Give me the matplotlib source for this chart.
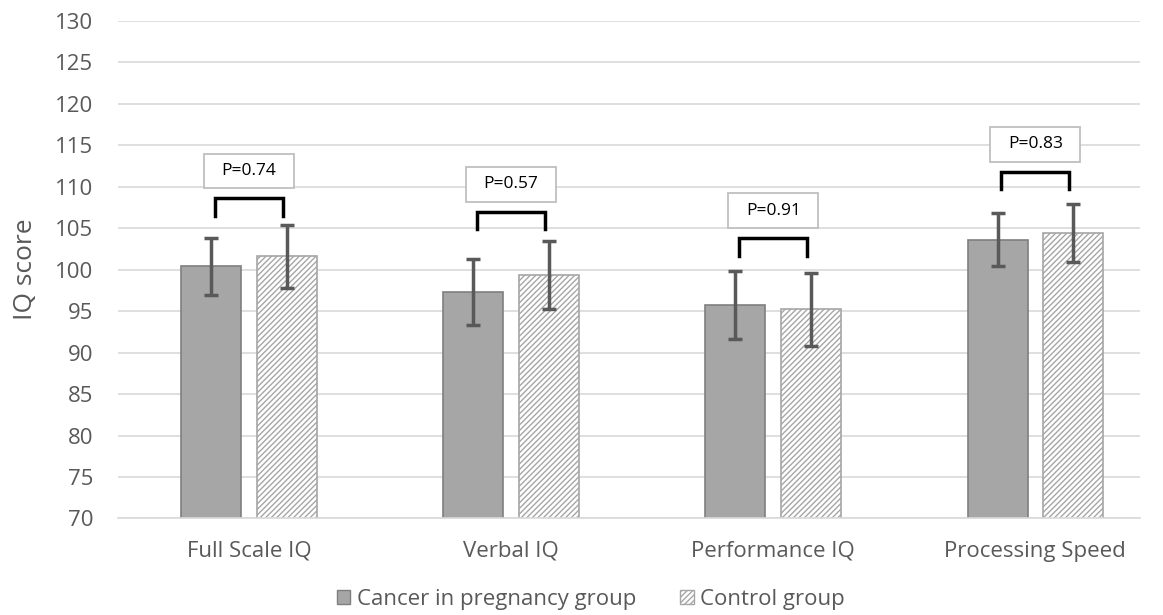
import numpy as np
import matplotlib.pyplot as plt
from matplotlib.patches import Patch, Rectangle

plt.rcParams['font.family'] = ['Open Sans', 'DejaVu Sans']
plt.rcParams['hatch.color'] = '#a6a6a6'
plt.rcParams['hatch.linewidth'] = 1.0

# ---------- data ----------
categories = ["Full Scale IQ", "Verbal IQ", "Performance IQ", "Processing Speed"]
cancer_mean = [100.4, 97.3, 95.7, 103.6]
cancer_err = [3.4, 4.0, 4.1, 3.2]
control_mean = [101.6, 99.3, 95.2, 104.4]
control_err = [3.8, 4.1, 4.4, 3.5]
p_labels = ["P=0.74", "P=0.57", "P=0.91", "P=0.83"]
bracket_top = [108.6, 107.0, 103.8, 111.8]

x = np.arange(len(categories))
w = 0.229
off = 0.144

fig = plt.figure(figsize=(11.63, 6.15), dpi=100)
ax = fig.add_axes([0.1015, 0.157, 0.8788, 0.809])

ax.bar(x - off, cancer_mean, w, color='#a6a6a6', edgecolor='#7f7f7f',
       linewidth=1.2, zorder=2)
ax.bar(x + off, control_mean, w, color='white', edgecolor='#a6a6a6',
       hatch='//////', linewidth=1.2, zorder=2)
ax.errorbar(x - off, cancer_mean, yerr=cancer_err, fmt='none', ecolor='#595959',
            elinewidth=2.5, capsize=5, capthick=2.5, zorder=3)
ax.errorbar(x + off, control_mean, yerr=control_err, fmt='none', ecolor='#595959',
            elinewidth=2.5, capsize=5, capthick=2.5, zorder=3)

# brackets + p-value boxes
for i in range(len(categories)):
    t = bracket_top[i]
    xl, xr = x[i] - 0.13, x[i] + 0.13
    ax.plot([xl, xl, xr, xr], [t - 2.1, t, t, t - 2.1], color='black', lw=2.5,
            solid_joinstyle='miter', zorder=4)
    ax.add_patch(Rectangle((x[i] - 0.172, t + 1.2), 0.344, 4.2, fc='white',
                           ec='#bfbfbf', lw=1.3, zorder=4))
    ax.text(x[i], t + 3.3, p_labels[i], ha='center', va='center', fontsize=12.5,
            color='black', zorder=5)

ax.set_ylim(70, 130)
ax.set_xlim(-0.5, 3.4)
ax.set_yticks(np.arange(70, 131, 5))
ax.set_xticks(x)
ax.set_xticklabels(categories)
ax.tick_params(axis='both', length=0, labelsize=16, colors='#595959')
ax.tick_params(axis='x', pad=16)
ax.tick_params(axis='y', pad=18)
ax.yaxis.grid(True, color='#d9d9d9', lw=1.2, zorder=0)
ax.set_axisbelow(True)
for s in ['top', 'right', 'left']:
    ax.spines[s].set_visible(False)
ax.spines['bottom'].set_color('#d9d9d9')
ax.spines['bottom'].set_linewidth(1.2)
ax.set_ylabel("IQ score", fontsize=19, color='#595959', labelpad=12)

handles = [Patch(facecolor='#a6a6a6', edgecolor='#7f7f7f', label='Cancer in pregnancy group'),
           Patch(facecolor='white', edgecolor='#a6a6a6', hatch='//////', label='Control group')]
fig.legend(handles=handles, loc='center', bbox_to_anchor=(0.508, 0.025), ncol=2,
           frameon=False, fontsize=16, handlelength=0.6, handleheight=0.6,
           handletextpad=0.3, columnspacing=2.0, labelcolor='#595959',
           borderpad=0)

plt.savefig("out.png", dpi=100)
